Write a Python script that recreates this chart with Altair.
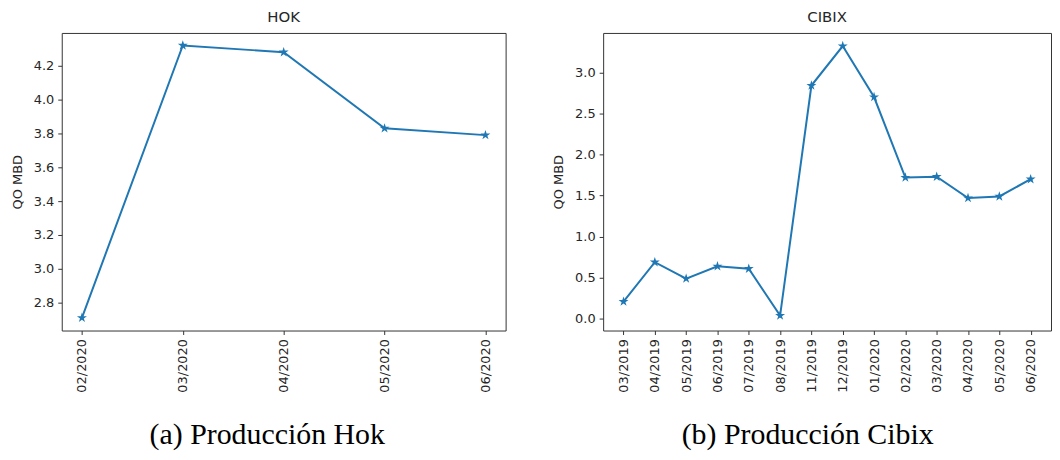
import altair as alt
import pandas as pd

hok_months = ["02/2020", "03/2020", "04/2020", "05/2020", "06/2020"]
hok_qo = [2.71, 4.32, 4.28, 3.83, 3.79]

cibix_months = ["03/2019", "04/2019", "05/2019", "06/2019", "07/2019", "08/2019",
                "11/2019", "12/2019", "01/2020", "02/2020", "03/2020", "04/2020",
                "05/2020", "06/2020"]
cibix_qo = [0.21, 0.69, 0.49, 0.64, 0.61, 0.04, 2.84, 3.32, 2.70, 1.72, 1.73,
            1.47, 1.49, 1.70]

hok_ticks = [2.8, 3.0, 3.2, 3.4, 3.6, 3.8, 4.0, 4.2]
cibix_ticks = [0.0, 0.5, 1.0, 1.5, 2.0, 2.5, 3.0]

STAR = ("M0,-1 L0.2245,-0.309 L0.951,-0.309 L0.363,0.118 L0.588,0.809 "
        "L0,0.382 L-0.588,0.809 L-0.363,0.118 L-0.951,-0.309 L-0.2245,-0.309 Z")
BLUE = "#1f77b4"
TXT = "#262626"


def panel(months, values, title, caption, ydomain, yticks, xpad, width, cap_x):
    df = pd.DataFrame({"month": months, "qo": values})
    x = alt.X("month:O", sort=months,
              scale=alt.Scale(type="point", padding=xpad),
              axis=alt.Axis(labelAngle=270, labelFont="DejaVu Sans",
                            labelFontSize=13, labelColor=TXT,
                            labelPadding=4, tickSize=4, tickColor="#333",
                            domain=False, title=caption,
                            titleFont="Liberation Serif", titleFontSize=30,
                            titleFontWeight="normal", titleColor="#000",
                            titlePadding=28, titleX=cap_x,
                            titleAlign="center"))
    y = alt.Y("qo:Q", scale=alt.Scale(domain=ydomain, nice=False, zero=False),
              axis=alt.Axis(values=yticks, format=".1f", grid=False,
                            domain=False, tickSize=4, tickColor="#333",
                            labelFont="DejaVu Sans", labelFontSize=13,
                            labelColor=TXT, labelPadding=4,
                            title="QO MBD", titleFont="DejaVu Sans",
                            titleFontSize=13, titleFontWeight="normal",
                            titleColor=TXT, titlePadding=9))
    base = alt.Chart(df).encode(x=x, y=y)
    line = base.mark_line(color=BLUE, strokeWidth=2)
    pts = base.mark_point(shape=STAR, size=110, filled=True, color=BLUE,
                          opacity=1)
    return alt.layer(line, pts).properties(
        width=width, height=299,
        title=alt.TitleParams(title, font="DejaVu Sans", fontSize=15,
                              fontWeight="normal", color=TXT, offset=8))


left = panel(hok_months, hok_qo, "HOK", "(a) Producción Hok",
             [2.635, 4.394], hok_ticks, 0.2, 446, 206)
right = panel(cibix_months, cibix_qo, "CIBIX", "(b) Producción Cibix",
              [-0.142, 3.48], cibix_ticks, 0.65, 450, 205)

chart = alt.hconcat(left, right, spacing=45).configure_view(
    stroke="#333", strokeWidth=1
).properties(padding={"left": 2, "top": 0, "right": 0, "bottom": 0})

chart.save("out.html", embed_options={"renderer": "svg", "actions": False})
